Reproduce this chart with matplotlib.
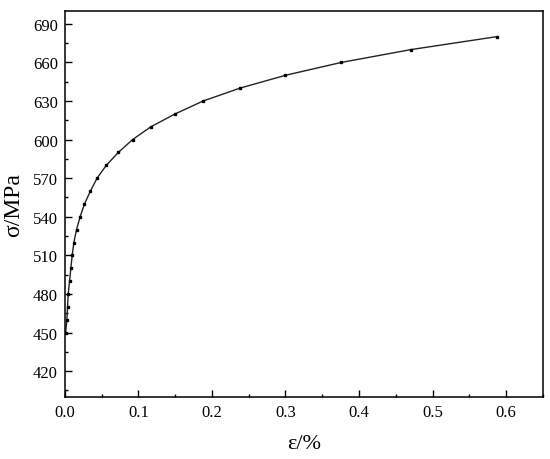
import matplotlib
matplotlib.use("Agg")
import matplotlib.pyplot as plt
from matplotlib.ticker import MultipleLocator

# =========================
# DATA
# =========================

strain = [0.001, 0.0027, 0.0036, 0.0045, 0.0063, 0.0081, 0.0099, 0.0122,
          0.0158, 0.0207, 0.0266, 0.0347, 0.0437, 0.0563, 0.0726, 0.092,
          0.117, 0.150, 0.188, 0.238, 0.300, 0.376, 0.471, 0.587]
stress = [450, 460, 470, 480, 490, 500, 510, 520,
          530, 540, 550, 560, 570, 580, 590, 600,
          610, 620, 630, 640, 650, 660, 670, 680]

plt.rcParams["font.family"] = ["Liberation Serif", "DejaVu Serif"]

fig = plt.figure(figsize=(5.5, 4.6), dpi=100)
ax = fig.add_axes([0.118, 0.135, 0.869, 0.839])

ax.plot(strain, stress, color="#222222", linewidth=1.0,
        marker="s", markersize=1.6, markerfacecolor="black",
        markeredgecolor="black")

ax.set_xlim(0, 0.65)
ax.set_ylim(400, 700)

ax.xaxis.set_major_locator(MultipleLocator(0.1))
ax.xaxis.set_minor_locator(MultipleLocator(0.05))
ax.yaxis.set_major_locator(MultipleLocator(30))
ax.yaxis.set_minor_locator(MultipleLocator(15))
ax.set_yticks(range(420, 691, 30))

ax.tick_params(which="major", direction="in", length=5, width=1,
               labelsize=12, colors="black", pad=5)
ax.tick_params(which="minor", direction="in", length=2.5, width=1)
ax.xaxis.set_major_formatter(plt.FuncFormatter(lambda v, p: f"{v:.1f}"))

for s in ax.spines.values():
    s.set_linewidth(1.1)

ax.set_xlabel("ε/%", fontsize=16, labelpad=10)
ax.set_ylabel("σ/MPa", fontsize=17, labelpad=6)

fig.savefig("out.png", dpi=100)
